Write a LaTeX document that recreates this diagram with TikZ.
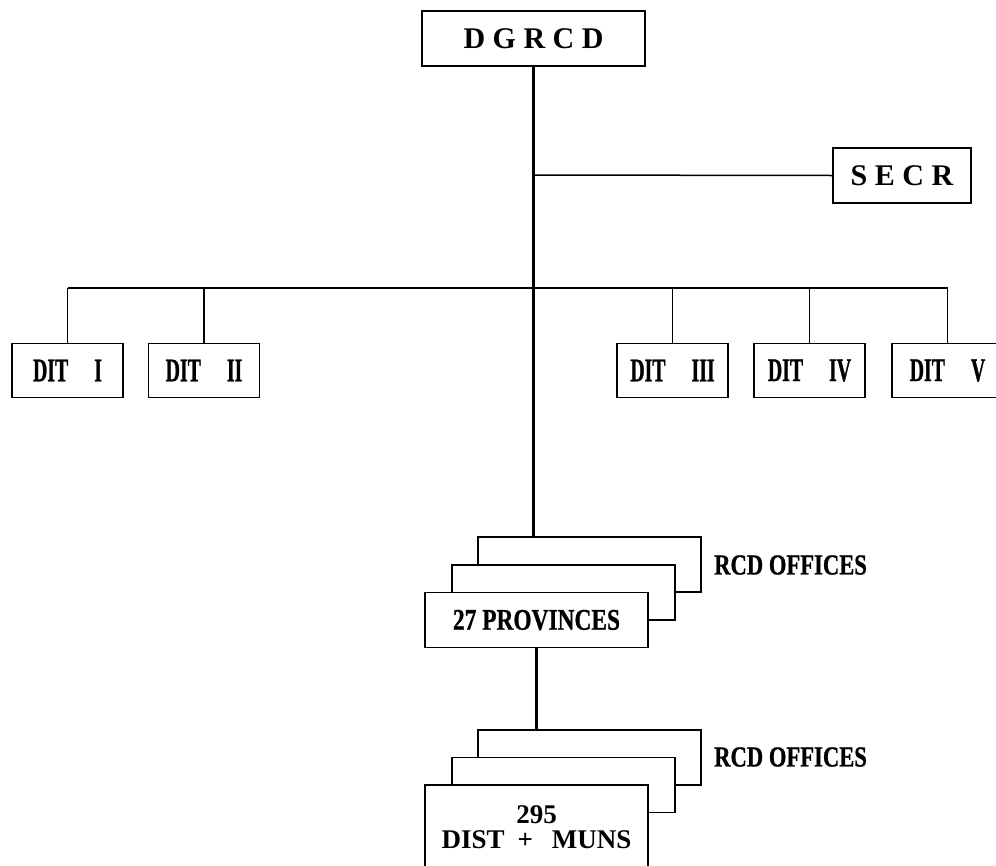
\documentclass[tikz,border=0pt]{standalone}
\usepackage{fontspec}
\setmainfont{Liberation Serif}
\newfontfamily\condfont[FakeStretch=0.6,FakeBold=0.8]{Liberation Serif}
\newfontfamily\narrowfont[FakeStretch=0.78,FakeBold=0.8]{Liberation Serif}
\usetikzlibrary{positioning}
\tikzset{
    % boxes of the chart
    orgbox/.style={
        draw,
        line width=1.6pt,
        fill=white,
        inner sep=0pt,
        minimum width=223pt,
        minimum height=55pt,
        font=\bfseries\fontsize{30}{30}\selectfont
    },
    ditbox/.style={
        orgbox,
        minimum width=111pt,
        minimum height=54pt,
        font=\condfont\bfseries\fontsize{33}{33}\selectfont
    },
    stackbox/.style={
        orgbox,
        font=\narrowfont\bfseries\fontsize{30}{30}\selectfont
    },
    % connectors
    orgline/.style={line width=1.5pt, black},
    mainline/.style={line width=2.2pt, black},
    officelabel/.style={
        anchor=west,
        inner sep=0pt,
        font=\narrowfont\bfseries\fontsize{29}{29}\selectfont
    }
}
\newcommand{\ditgap}{\hspace{26pt}}

\begin{document}
\begin{tikzpicture}[x=1pt,y=-1pt]
	\clip (0,0) rectangle (996,865);
	
	% top of the chart
	\node[orgbox] (dgrcd) at (533.5,38.5) {D G R C D};
	\node[orgbox,minimum width=138pt] (secr) at (902,175.5) {S E C R};
	
	% first stack
	\node[stackbox] (provback) at (589.5,564.5) {};
	\node[stackbox] (provmid) at (563.5,592.5) {};
	\node[stackbox] (provfront) at (536.5,620) {27 PROVINCES};
	\node[officelabel] (provlabel) at (714,565) {RCD OFFICES};
	
	% second stack
	\node[stackbox] (distback) at (589.5,757.5) {};
	\node[stackbox] (distmid) at (563.5,785) {};
	\node[stackbox,minimum height=84pt,align=center,
	      font=\bfseries\fontsize{27}{25}\selectfont]
	      (distfront) at (536.5,827) {295\\DIST\hspace{13pt}+\hspace{19pt}MUNS};
	\node[officelabel] (distlabel) at (714,757) {RCD OFFICES};
	
	% divisions
	\node[ditbox] (dit1) at (67.5,370.5) {DIT\ditgap I};
	\node[ditbox] (dit2) at (204,370.5) {DIT\ditgap II};
	\node[ditbox] (dit3) at (672.5,370.5) {DIT\ditgap III};
	\node[ditbox] (dit4) at (809.5,370.5) {DIT\ditgap IV};
	\node[ditbox] (dit5) at (947.5,370.5) {DIT\ditgap V};
	
	\coordinate (secrjoin) at (533.5,175);
	\coordinate (ditbar) at (533.5,288);
	
	% lines
	\draw[mainline] (dgrcd.south) -- (dgrcd.south |- provback.north);
	\draw[orgline] (secrjoin) -- (secr.west);
	\draw[orgline] (dit1.north |- ditbar) -- (dit5.north |- ditbar);
	\foreach \d in {dit1,dit2,dit3,dit4,dit5}
		\draw[orgline] (\d.north |- ditbar) -- (\d.north);
	\draw[mainline] (provfront.south) -- (provfront.south |- distback.north);
\end{tikzpicture}
\end{document}
